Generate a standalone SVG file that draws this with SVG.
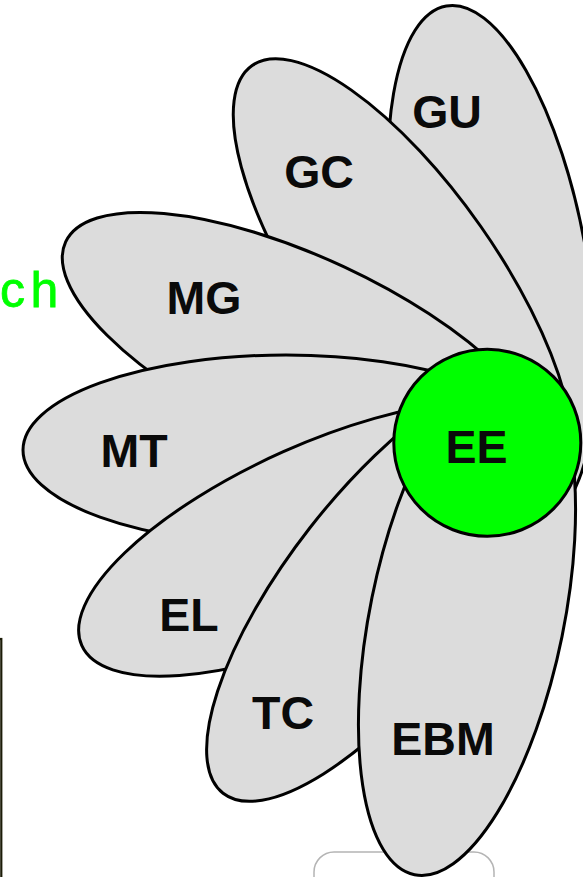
<svg xmlns="http://www.w3.org/2000/svg" width="583" height="877" viewBox="0 0 583 877">
<style>
.petal{fill:#dcdcdc;stroke:#000;stroke-width:3}
.lbl{font-family:"Liberation Sans",Arial,sans-serif;font-weight:bold;font-size:46.5px;fill:#0a0a0a;text-anchor:middle}
.side{font-family:"Liberation Sans",Arial,sans-serif;font-size:50px;fill:#00ff00;stroke:#00ff00;stroke-width:0.8}
</style>
<rect x="0" y="0" width="583" height="877" fill="#ffffff"/>
<g id="side-text"><text class="side" x="0 30.5" y="307">ch</text></g>
<g id="left-box"><rect x="-20" y="639" width="21.3" height="260" fill="none" stroke="#1c1c08" stroke-width="2.2"/></g>
<g id="bottom-box"><rect x="314" y="852" width="180" height="60" rx="20" ry="20" fill="#ffffff" stroke="#b4b4b4" stroke-width="1.5"/></g>
<g id="GU"><ellipse class="petal" cx="0" cy="0" rx="263" ry="95" transform="translate(492,265) rotate(80)"/><text class="lbl" x="447" y="128">GU</text></g>
<g id="GC"><ellipse class="petal" cx="0" cy="0" rx="263" ry="95" transform="translate(403,281) rotate(55)"/><text class="lbl" x="319" y="188">GC</text></g>
<g id="MG"><ellipse class="petal" cx="0" cy="0" rx="263" ry="95" transform="translate(304,353) rotate(25)"/><text class="lbl" x="204" y="314">MG</text></g>
<g id="MT"><ellipse class="petal" cx="0" cy="0" rx="263" ry="95" transform="translate(286,450) rotate(0)"/><text class="lbl" x="134" y="467">MT</text></g>
<g id="EL"><ellipse class="petal" cx="0" cy="0" rx="263" ry="95" transform="translate(322,538.5) rotate(-24)"/><text class="lbl" x="189" y="631">EL</text></g>
<g id="TC"><ellipse class="petal" cx="0" cy="0" rx="263" ry="95" transform="translate(385,586) rotate(-52)"/><text class="lbl" x="283" y="729">TC</text></g>
<g id="EBM"><ellipse class="petal" cx="0" cy="0" rx="263" ry="97" transform="translate(467,617) rotate(-78.5)"/><text class="lbl" x="443" y="755">EBM</text></g>
<g id="EE"><circle cx="487.3" cy="442.8" r="93.5" fill="#00ff00" stroke="#000" stroke-width="3"/><text class="lbl" x="476.5" y="463">EE</text></g>
<g id="connectors"/>
</svg>
